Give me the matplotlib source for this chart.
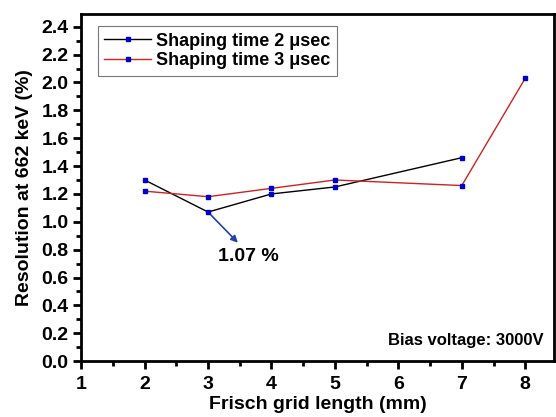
import matplotlib
matplotlib.use("Agg")
import matplotlib.pyplot as plt
from matplotlib.ticker import MultipleLocator, FormatStrFormatter

plt.rcParams['font.family'] = ['Liberation Sans', 'DejaVu Sans']
plt.rcParams['font.weight'] = 'bold'

# data
x_2us = [2, 3, 4, 5, 7]
res_2us = [1.30, 1.07, 1.20, 1.25, 1.46]
x_3us = [2, 3, 4, 5, 7, 8]
res_3us = [1.22, 1.18, 1.24, 1.30, 1.26, 2.03]

fig = plt.figure(figsize=(5.56, 4.17), dpi=100)
ax = fig.add_axes([0.146, 0.134, 0.850, 0.832])

ax.plot(x_2us, res_2us, color='black', linewidth=1.0, marker='s', markersize=3.5,
        markerfacecolor='#0000cc', markeredgecolor='#0000cc',
        label='Shaping time 2 μsec')
ax.plot(x_3us, res_3us, color='#cc2222', linewidth=1.0, marker='s', markersize=3.5,
        markerfacecolor='#0000cc', markeredgecolor='#0000cc',
        label='Shaping time 3 μsec')

# annotation of minimum: arrow from the point towards the label
ax.annotate('', xy=(3.47, 0.85), xytext=(3.0, 1.07),
            arrowprops=dict(arrowstyle='-|>', color='#2244aa', lw=1.2,
                            shrinkA=3, shrinkB=0, mutation_scale=10))
ax.text(3.63, 0.75, '1.07 %', ha='center', va='center', fontsize=14,
        fontweight='bold')
ax.text(8.29, 0.15, 'Bias voltage: 3000V', ha='right', va='center',
        fontsize=12, fontweight='bold')

ax.set_xlim(1, 8.45)
ax.set_ylim(0, 2.49)
ax.xaxis.set_major_locator(MultipleLocator(1))
ax.xaxis.set_minor_locator(MultipleLocator(0.5))
ax.yaxis.set_major_locator(MultipleLocator(0.2))
ax.yaxis.set_minor_locator(MultipleLocator(0.1))
ax.set_yticks([0.0, 0.2, 0.4, 0.6, 0.8, 1.0, 1.2, 1.4, 1.6, 1.8, 2.0, 2.2, 2.4])
ax.yaxis.set_major_formatter(FormatStrFormatter('%.1f'))

ax.tick_params(which='major', direction='out', length=6, width=2, labelsize=14, pad=3)
ax.tick_params(axis='x', which='major', pad=5)
ax.tick_params(which='minor', direction='out', length=3.5, width=2)
ax.tick_params(top=False, right=False, which='both')
for s in ax.spines.values():
    s.set_linewidth(2)

ax.set_xlabel('Frisch grid length (mm)', fontsize=14, fontweight='bold', labelpad=2)
ax.set_ylabel('Resolution at 662 keV (%)', fontsize=14, fontweight='bold', labelpad=6)

leg = ax.legend(loc='upper left', bbox_to_anchor=(0.035, 0.965), fontsize=13,
                frameon=True, fancybox=False, edgecolor='#555555',
                handlelength=2.6, borderpad=0.35, labelspacing=0.15,
                handletextpad=0.3, borderaxespad=0)
leg.get_frame().set_linewidth(0.8)

fig.savefig('out.png', dpi=100)
